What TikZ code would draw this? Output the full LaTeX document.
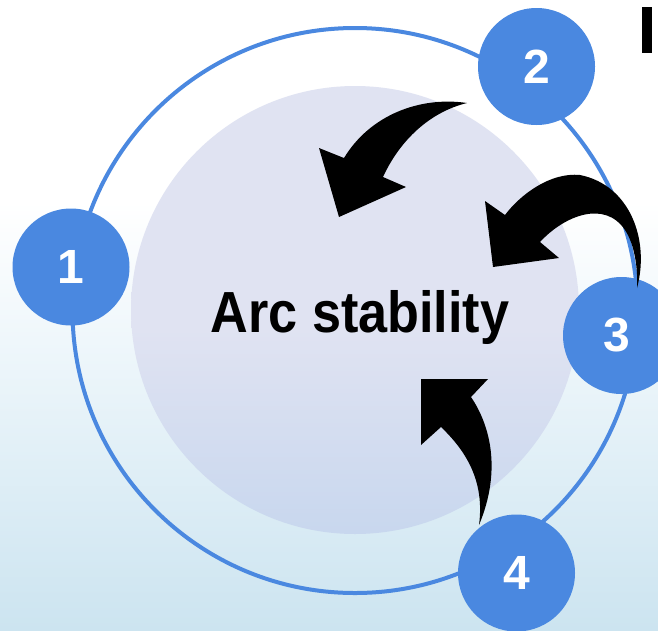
\documentclass[tikz,border=0pt]{standalone}
\usepackage{fontspec}
\setmainfont{Liberation Sans}
\definecolor{ringblue}{HTML}{4A88E0}
\definecolor{bgbot}{HTML}{CCE4F0}
\definecolor{bgmid}{HTML}{EFF7FB}
\definecolor{innertop}{HTML}{E0E3F2}
\definecolor{innerbot}{HTML}{C8D7EE}
\pgfdeclareverticalshading{bgshade}{100bp}{color(0bp)=(bgbot); color(25bp)=(bgbot); color(48bp)=(bgmid); color(59bp)=(white); color(100bp)=(white)}
\pgfdeclareverticalshading{innershade}{100bp}{color(0bp)=(innerbot); color(25bp)=(innerbot); color(48bp)=(innertop); color(75bp)=(innertop); color(100bp)=(innertop)}
\tikzset{
  numc/.style={circle, fill=ringblue, minimum size=117pt, inner sep=0pt, text=white,
    font=\fontsize{48}{50}\selectfont\bfseries},
  numtext/.style={inner sep=0pt, text=white, font=\fontsize{48}{50}\selectfont\bfseries},
  ringline/.style={draw=ringblue, line width=4pt},
  blockarrow/.style={fill=black}
}
\begin{document}
\begin{tikzpicture}[x=1pt,y=-1pt]
\useasboundingbox (0,0) rectangle (658,630);
\clip (0,0) rectangle (658,630);
\shade[shading=bgshade] (0,0) rectangle (658,630);
% inner disc
\shade[shading=innershade] (355,310) circle[radius=224pt];
% outer ring
\draw[ringline] (355,310.5) circle[radius=282.5pt];
% title
\node[anchor=base, inner sep=0pt] (title) at (360,332)
  {\scalebox{0.9}[1]{\fontsize{58}{60}\selectfont\bfseries Arc stability}};
% number circles
\node[numc] (n1) at (71,267) {1};
\node[numc] (n2) at (536.5,66.5) {2};
\node[numc] (n3) at (621.5,335.5) {};
\node[numtext] (t3) at (617,335.5) {3};
\node[numc] (n4) at (516.5,573) {4};
% black bar top right
\fill (642,7) rectangle (652,53);
% arrow from 2
\fill[blockarrow] (467,103) .. controls (420,96) and (370,115) .. (344,158)
  -- (319,148) -- (339,217) -- (406,187) -- (383,177)
  .. controls (400,140) and (430,112) .. (467,103) -- cycle;
% arrow from 3
\fill[blockarrow] (637,288) .. controls (650,240) and (630,185) .. (580,175)
  .. controls (550,172) and (520,195) .. (505,215)
  -- (485,201) -- (493,267) -- (559,258) -- (540,242)
  .. controls (565,215) and (605,200) .. (625,230)
  .. controls (635,245) and (638,270) .. (637,288) -- cycle;
% arrow from 4
\fill[blockarrow] (479,525) .. controls (502,470) and (490,425) .. (471,397)
  -- (488,379) -- (421,379) -- (421,445) -- (441,427)
  .. controls (465,450) and (485,480) .. (479,525) -- cycle;
\end{tikzpicture}
\end{document}
